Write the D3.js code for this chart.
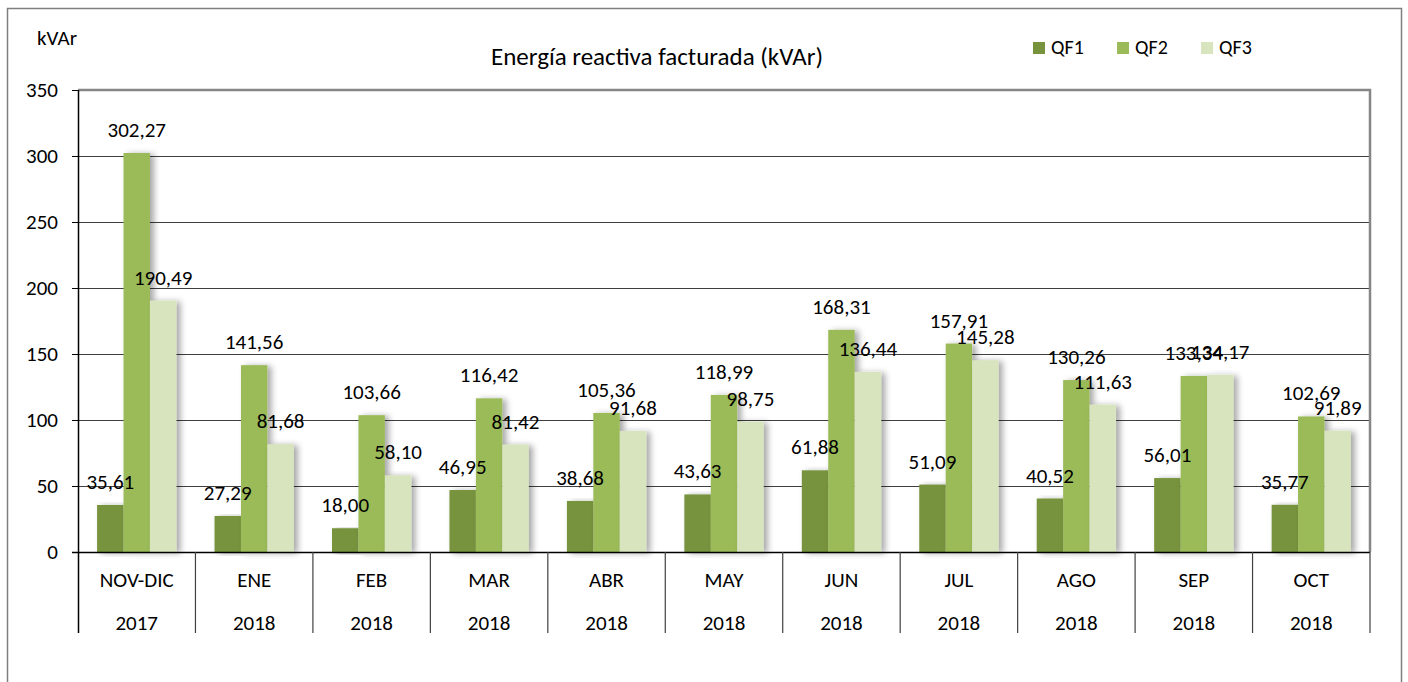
<!DOCTYPE html>
<html>
<head>
<meta charset="utf-8">
<script src="https://cdn.jsdelivr.net/npm/d3@7"></script>
<style>
  body { margin: 0; background: #fff; }
  text { font-family: Carlito, Calibri, Lato, "Open Sans", sans-serif; fill: #000; }
</style>
</head>
<body>
<div id="chart"></div>
<script>
const months = ['NOV-DIC', 'ENE', 'FEB', 'MAR', 'ABR', 'MAY', 'JUN', 'JUL', 'AGO', 'SEP', 'OCT'];
const years = ['2017', '2018', '2018', '2018', '2018', '2018', '2018', '2018', '2018', '2018', '2018'];
const seriesNames = ['QF1', 'QF2', 'QF3'];
const qf1 = [35.61, 27.29, 18.00, 46.95, 38.68, 43.63, 61.88, 51.09, 40.52, 56.01, 35.77];
const qf2 = [302.27, 141.56, 103.66, 116.42, 105.36, 118.99, 168.31, 157.91, 130.26, 133.34, 102.69];
const qf3 = [190.49, 81.68, 58.10, 81.42, 91.68, 98.75, 136.44, 145.28, 111.63, 134.17, 91.89];
const yTicks = [0, 50, 100, 150, 200, 250, 300, 350];
const colors = ['#77933c', '#9bbb59', '#d7e4bd'];

const W = 1408, H = 682;
const plot = { left: 78, top: 90, right: 1370, bottom: 552 };
const fs = '21px';

const svg = d3.select('#chart').append('svg')
    .attr('width', W)
    .attr('height', H);

// drop shadow for the bars
const defs = svg.append('defs');
const f = defs.append('filter').attr('id', 'shadow')
    .attr('x', '-20%').attr('y', '-5%').attr('width', '160%').attr('height', '115%');
f.append('feDropShadow')
    .attr('dx', 4).attr('dy', 1).attr('stdDeviation', 3)
    .attr('flood-color', '#000').attr('flood-opacity', 0.35);

// outer frame
svg.append('rect')
    .attr('x', 7.5).attr('y', 8.5)
    .attr('width', 1394).attr('height', 690)
    .attr('fill', 'none').attr('stroke', '#7f7f7f').attr('stroke-width', 1.5);

const x = d3.scaleBand()
    .domain(months)
    .range([plot.left, plot.right])
    .paddingInner(0.325)
    .paddingOuter(0.1625);

const xs = d3.scaleBand()
    .domain(seriesNames)
    .range([0, x.bandwidth()]);

const y = d3.scaleLinear()
    .domain([0, 350])
    .range([plot.bottom, plot.top]);

// gridlines
svg.append('g')
    .selectAll('line')
    .data(yTicks.filter(t => t > 0 && t < 350))
    .enter().append('line')
    .attr('x1', plot.left).attr('x2', plot.right)
    .attr('y1', d => Math.round(y(d)) + 0.5)
    .attr('y2', d => Math.round(y(d)) + 0.5)
    .attr('stroke', '#3f3f3f').attr('stroke-width', 1);

// plot area border (top/right)
svg.append('path')
    .attr('d', `M${plot.left},${plot.top}H${plot.right}V${plot.bottom}`)
    .attr('fill', 'none').attr('stroke', '#868686').attr('stroke-width', 2.5);

// bars
const series = [qf1, qf2, qf3];
const rows = [];
months.forEach((m, i) => {
    seriesNames.forEach((s, j) => {
        rows.push({ month: m, series: s, value: series[j][i], idx: j });
    });
});

svg.append('g')
    .selectAll('rect')
    .data(rows)
    .enter().append('rect')
    .attr('x', d => x(d.month) + xs(d.series))
    .attr('y', d => y(d.value))
    .attr('width', xs.bandwidth())
    .attr('height', d => y(0) - y(d.value))
    .attr('fill', d => colors[d.idx])
    .attr('filter', 'url(#shadow)');

// data labels
svg.append('g')
    .selectAll('text')
    .data(rows)
    .enter().append('text')
    .attr('x', d => x(d.month) + xs(d.series) + xs.bandwidth() / 2)
    .attr('y', d => y(d.value) - 16)
    .attr('text-anchor', 'middle')
    .style('font-size', fs)
    .text(d => d3.format('.2f')(d.value).replace('.', ','));

// x baseline
svg.append('line')
    .attr('x1', plot.left - 6).attr('x2', plot.right)
    .attr('y1', plot.bottom + 0.5).attr('y2', plot.bottom + 0.5)
    .attr('stroke', '#000').attr('stroke-width', 1.5);

// y axis
const yAxis = d3.axisLeft(y).tickValues(yTicks).tickSize(6).tickPadding(14);
const ga = svg.append('g')
    .attr('transform', `translate(${plot.left},0)`)
    .call(yAxis);
ga.select('.domain').remove();
ga.selectAll('.tick line').attr('stroke', '#000');
ga.selectAll('.tick text').style('font-size', fs).attr('fill', '#000');
svg.append('line')
    .attr('x1', plot.left + 0.5).attr('x2', plot.left + 0.5)
    .attr('y1', plot.top).attr('y2', 633)
    .attr('stroke', '#000').attr('stroke-width', 1.5);

// category dividers and labels
const step = x.step();
const bounds = months.map((m, i) => plot.left + step * (i + 1));
svg.append('g')
    .selectAll('line')
    .data(bounds)
    .enter().append('line')
    .attr('x1', d => d).attr('x2', d => d)
    .attr('y1', plot.bottom).attr('y2', 633)
    .attr('stroke', '#404040').attr('stroke-width', 1.2);

svg.append('g')
    .selectAll('text')
    .data(months)
    .enter().append('text')
    .attr('x', d => x(d) + x.bandwidth() / 2)
    .attr('y', 587)
    .attr('text-anchor', 'middle')
    .style('font-size', fs)
    .text(d => d);

svg.append('g')
    .selectAll('text')
    .data(years)
    .enter().append('text')
    .attr('x', (d, i) => x(months[i]) + x.bandwidth() / 2)
    .attr('y', 630)
    .attr('text-anchor', 'middle')
    .style('font-size', fs)
    .text(d => d);

// title and unit
svg.append('text')
    .attr('x', 657).attr('y', 65)
    .attr('text-anchor', 'middle')
    .style('font-size', '25px')
    .text('Energía reactiva facturada (kVAr)');

svg.append('text')
    .attr('x', 37).attr('y', 45)
    .style('font-size', fs)
    .text('kVAr');

// legend
const lg = svg.append('g').attr('transform', 'translate(1033,42)');
const item = lg.selectAll('g')
    .data(seriesNames)
    .enter().append('g')
    .attr('transform', (d, i) => `translate(${i * 84},0)`);
item.append('rect')
    .attr('width', 12).attr('height', 12)
    .attr('fill', (d, i) => colors[i]);
item.append('text')
    .attr('x', 18).attr('y', 12)
    .style('font-size', '20px')
    .text(d => d);
</script>
</body>
</html>
